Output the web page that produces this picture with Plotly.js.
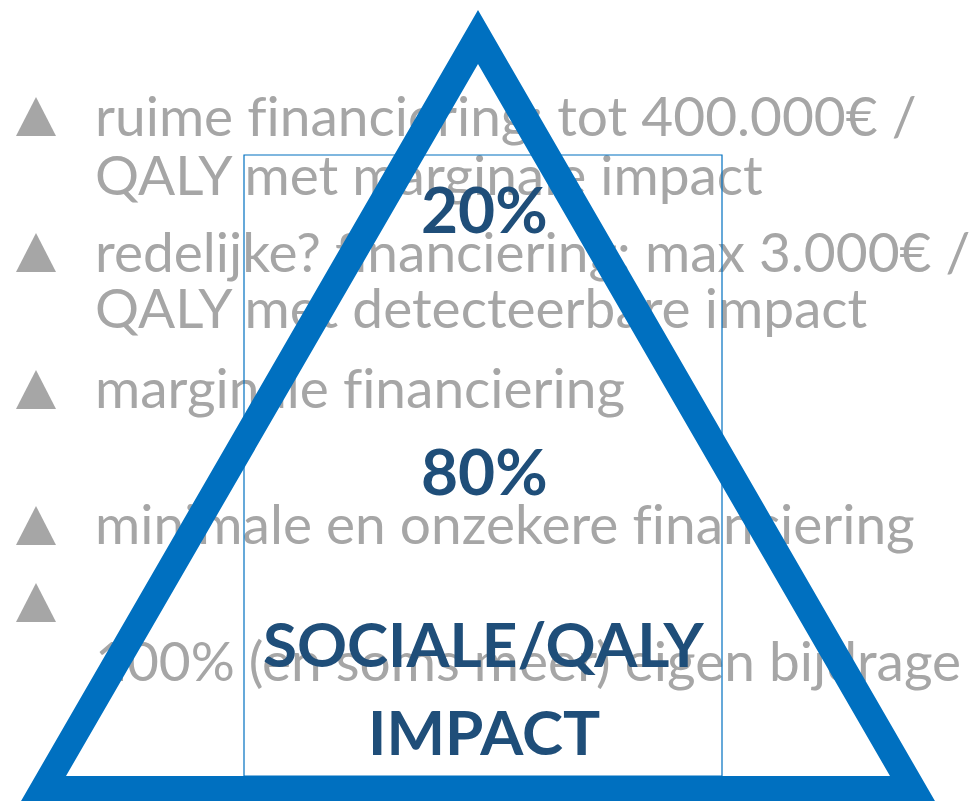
<!DOCTYPE html>
<html>
<head>
<meta charset="utf-8">
<script src="https://cdn.plot.ly/plotly-3.0.1.min.js"></script>
<style>html,body{margin:0;padding:0;background:#fff;}#chart{width:971px;height:801px;}
text{font-variant-ligatures:none;font-feature-settings:"liga" 0;}</style>
</head>
<body>
<div id="chart"></div>
<script>
// Bullet text lines (gray)
const bulletLines = [
  "ruime financiering: tot 400.000€ /",
  "QALY met marginale impact",
  "redelijke? financiering: max 3.000€ /",
  "QALY met detecteerbare impact",
  "marginale financiering",
  "minimale en onzekere financiering",
  "100% (en soms meer) eigen bijdrage"
];
const bulletTopsPx = [97, 233, 370, 506, 583];
const lineMidPx = [122, 181, 258, 314, 394, 530, 667];

// Shares shown inside the pyramid
const shareLabels = ["20%", "80%"];
const shareMidPx = [208, 470];
const impactLabel = ["SOCIALE/QALY", "IMPACT"];
const impactMidPx = [643, 731];

const GRAY = "#A6A6A6";
const BLUE = "#0070C0";
const DARK = "#1F4E79";

const textTrace = {
  type: "scatter",
  mode: "text",
  x: bulletLines.map(() => 95),
  y: lineMidPx,
  text: bulletLines,
  textposition: "middle right",
  textfont: {family: "Lato, sans-serif", size: 55, color: GRAY},
  hoverinfo: "skip",
  showlegend: false,
  cliponaxis: false
};

const shapes = [];
bulletTopsPx.forEach(t => {
  shapes.push({
    type: "path", layer: "below", xref: "x", yref: "y",
    path: `M16,${t + 39} L56,${t + 39} L36,${t} Z`,
    fillcolor: GRAY, line: {width: 0}
  });
});
// Thin rectangle
shapes.push({
  type: "rect", layer: "above", xref: "x", yref: "y",
  x0: 244, x1: 722, y0: 155, y1: 776,
  line: {color: BLUE, width: 1.2}, fillcolor: "rgba(0,0,0,0)"
});
// Thick pyramid outline (outer triangle with inner hole)
shapes.push({
  type: "path", layer: "above", xref: "x", yref: "y",
  path: "M478,10 L17,808 L939,808 Z M478,64 L890,776 L66,776 Z",
  fillcolor: BLUE, line: {width: 0}
});

const annotations = [];
shareLabels.forEach((s, i) => annotations.push({
  x: 484, y: shareMidPx[i], xref: "x", yref: "y", text: s, showarrow: false,
  xanchor: "center", yanchor: "middle",
  font: {family: "Lato, sans-serif", size: 64, color: DARK, weight: 700}
}));
impactLabel.forEach((s, i) => annotations.push({
  x: 484, y: impactMidPx[i], xref: "x", yref: "y", text: s, showarrow: false,
  xanchor: "center", yanchor: "middle",
  font: {family: "Lato, sans-serif", size: 62, color: DARK, weight: 700}
}));

const layout = {
  width: 971, height: 801,
  margin: {l: 0, r: 0, t: 0, b: 0, pad: 0},
  paper_bgcolor: "#fff", plot_bgcolor: "#fff",
  xaxis: {range: [0, 971], visible: false, fixedrange: true},
  yaxis: {range: [801, 0], visible: false, fixedrange: true},
  shapes: shapes,
  annotations: annotations,
  showlegend: false
};

Plotly.newPlot("chart", [textTrace], layout, {staticPlot: true, displayModeBar: false});
</script>
</body>
</html>
